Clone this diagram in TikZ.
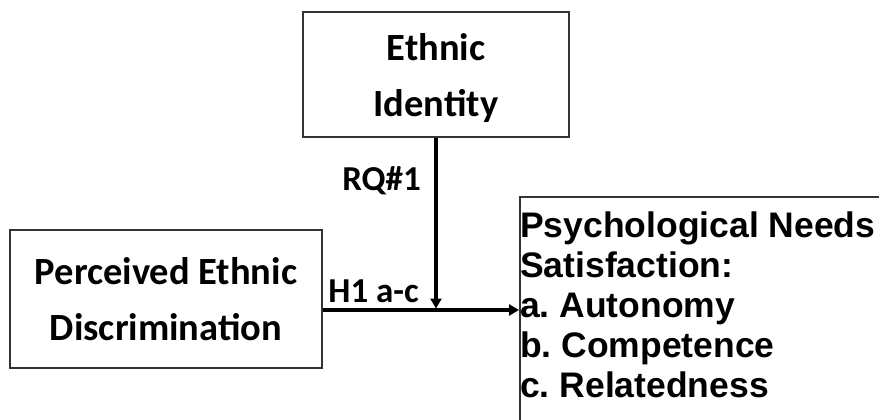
\documentclass[tikz,border=0pt]{standalone}
\usepackage{fontspec}
\newfontfamily\calibrifont{Carlito}
\newfontfamily\arialfont{Liberation Sans}
\usetikzlibrary{arrows.meta,positioning,calc}
\frenchspacing

\begin{document}
\begin{tikzpicture}[x=1pt,y=-1pt,
  varbox/.style={draw=black!80,line width=1.8pt,fill=white,align=center,inner sep=0pt,
                 font=\calibrifont\bfseries\fontsize{38.5}{56}\selectfont},
  needbox/.style={draw=black!80,line width=1.8pt,fill=white,inner sep=0pt},
  needtext/.style={align=left,inner sep=0pt,font=\arialfont\bfseries\fontsize{35.5}{40}\selectfont},
  lbl/.style={inner sep=0pt,font=\calibrifont\bfseries\fontsize{35}{38}\selectfont},
  link/.style={-{Triangle[length=10pt,width=11pt]},line width=3.2pt}
]
\useasboundingbox (0,0) rectangle (879,420);
\clip (0,0) rectangle (879,420);
% Moderator
\node[varbox,minimum width=266pt,minimum height=125pt,text depth=0pt] (ident) at (436,74.5)
  {Ethnic\\Identity};
% Predictor
\node[varbox,minimum width=312pt,minimum height=138pt] (percv) at (166,299)
  {Perceived Ethnic\\Discrimination};
% Outcome (runs off the page)
\node[needbox,anchor=north west,minimum width=420pt,minimum height=300pt] (needs) at (519,196) {};
\node[needtext,anchor=north west] (needtxt) at (520,211.5)
  {Psychological Needs\\Satisfaction:\\a. Autonomy\\b. Competence\\c. Relatedness};
% Paths
\coordinate (join) at (ident.south |- 0,310);
\draw[link] (join -| percv.east) -- (join -| needs.west);
\draw[link,shorten >=1.5pt] (ident.south) -- (join);
% Labels
\node[lbl,anchor=base east] (rq) at ($(ident.south |- 0,190)+(-15,0)$) {RQ\#1};
\node[lbl,anchor=base east] (hyp) at ($(join)+(-17,-8)$) {H1 a-c};
\end{tikzpicture}
\end{document}
